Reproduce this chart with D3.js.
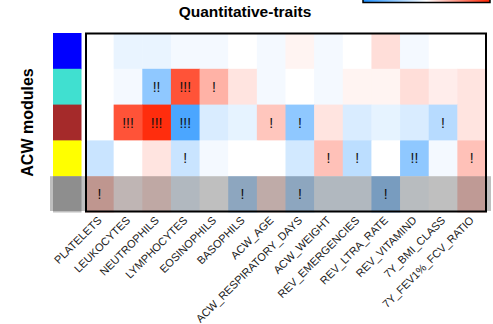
<!DOCTYPE html>
<html>
<head>
<meta charset="utf-8">
<script src="https://cdn.jsdelivr.net/npm/d3@7"></script>
<style>
  body { margin: 0; background: #fff; }
  svg { display: block; font-family: "Liberation Sans", Arial, sans-serif; }
</style>
</head>
<body>
<svg id="chart" width="493" height="324"></svg>
<script>
// traits (columns) and modules (rows)
var traits = ["PLATELETS", "LEUKOCYTES", "NEUTROPHILS", "LYMPHOCYTES", "EOSINOPHILS",
  "BASOPHILS", "ACW_AGE", "ACW_RESPIRATORY_DAYS", "ACW_WEIGHT", "REV_EMERGENCIES",
  "REV_LTRA_RATE", "REV_VITAMIND", "7Y_BMI_CLASS", "7Y_FEV1%_FCV_RATIO"];
var modules = ["blue", "turquoise", "brown", "yellow", "grey"];
var moduleColors = ["#0000FF", "#40E0D0", "#A52A2A", "#FFFF00", "#BEBEBE"];

// correlation estimates
var corBlue      = [0, -0.1, -0.1, -0.05, -0.05, 0, -0.05, 0.05, -0.05, 0, 0.15, -0.05, 0, 0];
var corTurquoise = [0, -0.05, -0.5, 0.78, 0.35, 0.12, -0.05, 0, -0.05, 0.05, 0.05, 0.15, 0.08, 0.12];
var corBrown     = [0, 0.78, 0.95, -0.8, -0.17, -0.11, 0.26, -0.5, 0.12, -0.17, -0.11, -0.17, -0.32, 0.12];
var corYellow    = [-0.24, 0, 0.12, -0.24, -0.05, 0, 0, -0.2, 0.28, -0.3, 0, -0.5, -0.05, 0.28];
var corGrey      = [0.25, 0.06, 0.14, -0.08, 0, -0.3, 0.12, -0.3, -0.08, -0.08, -0.42, -0.04, 0, 0.22];

var sigBlue      = ["", "", "", "", "", "", "", "", "", "", "", "", "", ""];
var sigTurquoise = ["", "", "!!", "!!!", "!", "", "", "", "", "", "", "", "", ""];
var sigBrown     = ["", "!!!", "!!!", "!!!", "", "", "!", "!", "", "", "", "", "!", ""];
var sigYellow    = ["", "", "", "!", "", "", "", "", "!", "!", "", "!!", "", "!"];
var sigGrey      = ["!", "", "", "", "", "!", "", "!", "", "", "!", "", "", ""];

var highlighted = "grey";

var cor = [corBlue, corTurquoise, corBrown, corYellow, corGrey];
var sig = [sigBlue, sigTurquoise, sigBrown, sigYellow, sigGrey];

var svg = d3.select("#chart");

var x = d3.scaleBand().domain(traits).range([85, 486]);
var y = d3.scaleBand().domain(modules).range([33, 212]);

var color = d3.scaleLinear()
  .domain([-1, 0, 1])
  .range(["#1E90FF", "#FFFFFF", "#FF2200"]);

// cells
var cells = [];
modules.forEach(function(m, i) {
  traits.forEach(function(t, j) {
    cells.push({module: m, trait: t, value: cor[i][j], sig: sig[i][j]});
  });
});

svg.append("g").selectAll("rect")
  .data(cells)
  .enter().append("rect")
  .attr("x", function(d) { return x(d.trait); })
  .attr("y", function(d) { return y(d.module); })
  .attr("width", x.bandwidth() + 0.5)
  .attr("height", y.bandwidth() + 0.5)
  .attr("fill", function(d) { return color(d.value); });

svg.append("g").selectAll("text")
  .data(cells.filter(function(d) { return d.sig; }))
  .enter().append("text")
  .attr("x", function(d) { return x(d.trait) + x.bandwidth() / 2; })
  .attr("y", function(d) { return y(d.module) + y.bandwidth() / 2 + 5; })
  .attr("text-anchor", "middle")
  .attr("font-size", 14)
  .attr("fill", "#111")
  .text(function(d) { return d.sig; });

// module colour strip
svg.append("g").selectAll("rect")
  .data(modules)
  .enter().append("rect")
  .attr("x", 53)
  .attr("y", function(d) { return y(d); })
  .attr("width", 28.5)
  .attr("height", y.bandwidth() + 0.5)
  .attr("fill", function(d, i) { return moduleColors[i]; });

// heatmap frame
svg.append("rect")
  .attr("x", 86)
  .attr("y", 33.5)
  .attr("width", 400)
  .attr("height", 178)
  .attr("fill", "none")
  .attr("stroke", "#000")
  .attr("stroke-width", 2);

// highlight band on the selected module
svg.append("rect")
  .attr("x", 50)
  .attr("y", y(highlighted))
  .attr("width", 441)
  .attr("height", y.bandwidth() - 1)
  .attr("fill", "rgba(0,0,0,0.25)");

// x labels
svg.append("g").selectAll("text")
  .data(traits)
  .enter().append("text")
  .attr("transform", function(d) {
    return "translate(" + (x(d) + x.bandwidth() / 2 + 3) + ",221) rotate(-45)";
  })
  .attr("text-anchor", "end")
  .attr("font-size", 11)
  .attr("fill", "#1a1a1a")
  .text(function(d) { return d; });

// titles
svg.append("text")
  .attr("x", 245)
  .attr("y", 17)
  .attr("text-anchor", "middle")
  .attr("font-weight", "bold")
  .attr("font-size", 15.5)
  .text("Quantitative-traits");

svg.append("text")
  .attr("transform", "translate(33,122.5) rotate(-90)")
  .attr("text-anchor", "middle")
  .attr("font-weight", "bold")
  .attr("font-size", 16)
  .text("ACW modules");

// colour bar (mostly off the top edge)
var defs = svg.append("defs");
var grad = defs.append("linearGradient").attr("id", "cbar");
[-1, -0.5, 0, 0.5, 1].forEach(function(v) {
  grad.append("stop")
    .attr("offset", ((v + 1) / 2 * 100) + "%")
    .attr("stop-color", color(v));
});
svg.append("rect")
  .attr("x", 363)
  .attr("y", -20)
  .attr("width", 127)
  .attr("height", 22.5)
  .attr("fill", "url(#cbar)")
  .attr("stroke", "#000")
  .attr("stroke-width", 1.5);
</script>
</body>
</html>
